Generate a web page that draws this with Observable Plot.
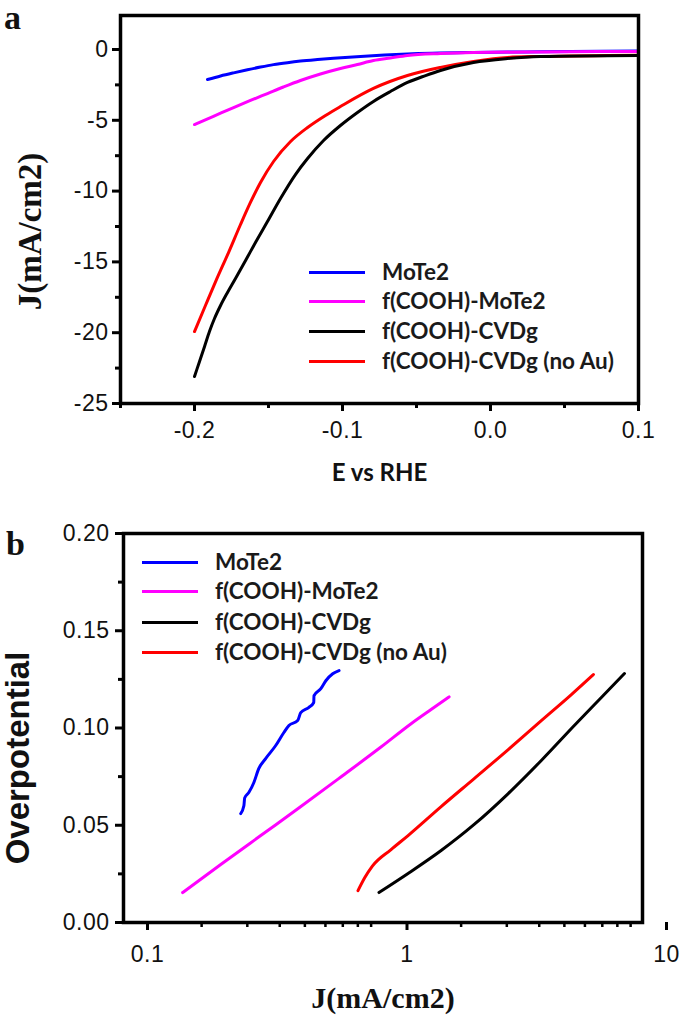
<!DOCTYPE html>
<html>
<head>
<meta charset="utf-8">
<script src="https://cdn.jsdelivr.net/npm/d3@7"></script>
<script src="https://cdn.jsdelivr.net/npm/@observablehq/plot@0.6"></script>
<style>
  body { margin: 0; background: white; }
  #wrap { position: relative; width: 685px; height: 1016px; background: white; overflow: hidden; }
  .panel { position: absolute; left: 0; }
  .plabel { position: absolute; font-family: "Liberation Serif", "Times New Roman", serif; font-weight: bold; font-size: 34px; line-height: 1; color: #111; }
  .legend { position: absolute; font-family: Lato, "Open Sans", sans-serif; font-weight: bold; font-size: 22.5px; color: #1a1a1a; }
  .legend .row { position: absolute; left: 0; white-space: nowrap; height: 0; }
  .legend .sw { position: absolute; left: 0; top: -1.5px; width: 56px; height: 3px; }
  .legend .tx { position: absolute; top: -14px; line-height: 28px; }
  #pa svg g[aria-label$="tick label"], #pb svg g[aria-label$="tick label"] {
    font-family: "Liberation Sans", Arial, sans-serif; font-size: 23px; letter-spacing: 0.5px; fill: #111;
  }
</style>
</head>
<body>
<div id="wrap">
  <div id="pa" class="panel" style="top:0"></div>
  <div id="pb" class="panel" style="top:500px"></div>
  <div class="plabel" style="left:4px; top:1px;">a</div>
  <div class="plabel" style="left:6px; top:527px;">b</div>
  <div id="lega" class="legend" style="left:309px; top:0;"></div>
  <div id="legb" class="legend" style="left:142px; top:0;"></div>
</div>
<script>
// ---------- Data ----------
const seriesNames = ["MoTe2", "f(COOH)-MoTe2", "f(COOH)-CVDg", "f(COOH)-CVDg (no Au)"];
const seriesColors = ["#0000ff", "#ff00ff", "#000000", "#ff0000"];

// Panel a: E vs RHE (V) and J (mA/cm2)
const aMoTe2E = [-0.1912, -0.1824, -0.1736, -0.1642, -0.1554, -0.1466, -0.1372, -0.1284, -0.1169, -0.1061, -0.0878, -0.0561, -0.0115, 0.0338, 0.1];
const aMoTe2J = [-2.12, -1.87, -1.65, -1.43, -1.24, -1.07, -0.93, -0.82, -0.71, -0.62, -0.49, -0.32, -0.21, -0.16, -0.11];
const aFMoTe2E = [-0.2, -0.1872, -0.1736, -0.1622, -0.1507, -0.1399, -0.1284, -0.1149, -0.1014, -0.0899, -0.0791, -0.0676, -0.0561, -0.0338, -0.0115, 0.0338, 0.1];
const aFMoTe2J = [-5.30, -4.72, -4.10, -3.60, -3.11, -2.65, -2.19, -1.73, -1.34, -1.06, -0.78, -0.60, -0.42, -0.28, -0.21, -0.17, -0.14];
const aCVDgE = [-0.2, -0.1966, -0.1932, -0.1899, -0.1865, -0.1824, -0.1777, -0.1723, -0.1655, -0.1588, -0.1507, -0.1419, -0.1318, -0.1236, -0.1128, -0.1014, -0.0899, -0.0791, -0.0676, -0.0561, -0.0439, -0.0338, -0.0115, 0.0115, 0.0338, 0.1];
const aCVDgJ = [-23.09, -22.03, -20.97, -19.92, -19.0, -18.08, -17.16, -16.17, -14.9, -13.63, -12.15, -10.52, -8.83, -7.70, -6.43, -5.37, -4.45, -3.67, -2.97, -2.33, -1.84, -1.48, -0.92, -0.64, -0.50, -0.42];
const aNoAuE = [-0.2, -0.1926, -0.1851, -0.1770, -0.1689, -0.1622, -0.1554, -0.1466, -0.1351, -0.1236, -0.1115, -0.1014, -0.0791, -0.0561, -0.0338, -0.0115, 0.0115, 0.0338, 0.1];
const aNoAuJ = [-19.92, -18.08, -16.24, -14.34, -12.36, -10.80, -9.39, -7.91, -6.50, -5.51, -4.66, -4.03, -2.75, -1.84, -1.27, -0.85, -0.56, -0.49, -0.40];

// Panel b: J (mA/cm2, log) and overpotential (V)
const bMoTe2J = [0.283, 0.291, 0.293, 0.304, 0.318, 0.332, 0.353, 0.386, 0.415, 0.434, 0.469, 0.482, 0.517, 0.541, 0.542, 0.576, 0.602, 0.640, 0.677];
const bMoTe2N = [0.056, 0.060, 0.064, 0.0668, 0.072, 0.0791, 0.0843, 0.0910, 0.0977, 0.1013, 0.1038, 0.1079, 0.1105, 0.1131, 0.1166, 0.1202, 0.1243, 0.1279, 0.1295];
const bFMoTe2J = [0.169, 0.237, 0.338, 0.4825, 0.688, 0.982, 1.283, 1.532, 1.798];
const bFMoTe2N = [0.0154, 0.0298, 0.0447, 0.0596, 0.0748, 0.0902, 0.1022, 0.1095, 0.116];
const bCVDgJ = [0.965, 1.249, 1.675, 2.246, 3.038, 4.074, 5.46, 6.94, 8.52];
const bCVDgN = [0.0154, 0.0252, 0.0370, 0.0504, 0.0663, 0.0833, 0.1013, 0.1157, 0.1280];
const bNoAuJ = [0.801, 0.850, 0.910, 1.074, 1.249, 1.675, 2.246, 3.038, 4.074, 5.32, 6.47];
const bNoAuN = [0.0164, 0.0230, 0.0290, 0.0375, 0.0447, 0.0596, 0.0740, 0.0889, 0.1038, 0.1172, 0.1275];

// Tick values
const aXTicks = [-0.2, -0.1, 0.0, 0.1];
const aXMinor = [-0.25, -0.15, -0.05, 0.05];
const aYTicks = [0, -5, -10, -15, -20, -25];
const aYMinor = [-2.5, -7.5, -12.5, -17.5, -22.5];
const bXTicks = [0.1, 1, 10];
const bXMinor = [0.2, 0.3, 0.4, 0.5, 0.6, 0.7, 0.8, 0.9, 2, 3, 4, 5, 6, 7, 8, 9];
const bYTicks = [0, 0.05, 0.1, 0.15, 0.2];
const bYMinor = [0.025, 0.075, 0.125, 0.175];

// ---------- Build tables ----------
function table(xs, ys, name) { return xs.map((x, i) => ({x, y: ys[i], s: name})); }
const aData = [
  ...table(aNoAuE, aNoAuJ, seriesNames[3]),
  ...table(aCVDgE, aCVDgJ, seriesNames[2]),
  ...table(aMoTe2E, aMoTe2J, seriesNames[0]),
  ...table(aFMoTe2E, aFMoTe2J, seriesNames[1])
];
const bData = [
  ...table(bMoTe2J, bMoTe2N, seriesNames[0]),
  ...table(bFMoTe2J, bFMoTe2N, seriesNames[1]),
  ...table(bCVDgJ, bCVDgN, seriesNames[2]),
  ...table(bNoAuJ, bNoAuN, seriesNames[3])
];
const colorScale = {domain: seriesNames, range: seriesColors};
const tickFont = "Liberation Sans, Arial, sans-serif";

// ---------- Panel a ----------
const pa = Plot.plot({
  width: 685, height: 500,
  marginLeft: 120, marginRight: 47, marginTop: 15, marginBottom: 97,
  x: {domain: [-0.25, 0.1]},
  y: {domain: [-25, 2.4]},
  color: colorScale,
  style: {fontFamily: tickFont, fontSize: "23px", color: "black", background: "white", overflow: "visible"},
  marks: [
    Plot.line(aData, {x: "x", y: "y", z: "s", stroke: "s", strokeWidth: 3, curve: "monotone-x"}),
    Plot.axisX(aXTicks, {tickSize: 8, tickPadding: 10, strokeWidth: 3, tickFormat: d => d.toFixed(1), label: null, fontSize: 23}),
    Plot.axisX(aXMinor, {tickSize: 5, strokeWidth: 3, text: null, label: null}),
    Plot.axisY(aYTicks, {tickSize: 8, tickPadding: 4, strokeWidth: 3, tickFormat: d => String(d), label: null, fontSize: 23}),
    Plot.axisY(aYMinor, {tickSize: 5, strokeWidth: 3, text: null, label: null}),
    Plot.frame({stroke: "black", strokeWidth: 3.5}),
    Plot.text(["E vs RHE"], {text: d => d, frameAnchor: "bottom", lineAnchor: "middle", textAnchor: "middle", dy: 70, fontFamily: "Lato, sans-serif", fontWeight: "bold", fontSize: 24, fill: "#111"}),
    Plot.text(["J(mA/cm2)"], {text: d => d, frameAnchor: "left", textAnchor: "middle", lineAnchor: "middle", dx: -90, dy: 22, rotate: -90, fontFamily: "Liberation Serif, serif", fontWeight: "bold", fontSize: 33, fill: "#111"})
  ]
});
document.getElementById("pa").appendChild(pa);

// ---------- Panel b ----------
const pb = Plot.plot({
  width: 685, height: 516,
  marginLeft: 123, marginRight: 43, marginTop: 33, marginBottom: 94,
  x: {type: "log", domain: [0.1, 10]},
  y: {domain: [0, 0.2]},
  color: colorScale,
  style: {fontFamily: tickFont, fontSize: "23px", color: "black", background: "white", overflow: "visible"},
  marks: [
    Plot.line(bData, {x: "x", y: "y", z: "s", stroke: "s", strokeWidth: 3, curve: "monotone-x"}),
    Plot.axisX(bXTicks, {tickSize: 8, tickPadding: 15, strokeWidth: 3, tickFormat: d => String(d), label: null, dx: 24, fontSize: 23}),
    Plot.axisX(bXMinor, {tickSize: 5, strokeWidth: 2.5, text: null, label: null}),
    Plot.axisY(bYTicks, {tickSize: 8, tickPadding: 6, strokeWidth: 3, tickFormat: d => d.toFixed(2), label: null, fontSize: 23}),
    Plot.axisY(bYMinor, {tickSize: 5, strokeWidth: 3, text: null, label: null}),
    Plot.frame({stroke: "black", strokeWidth: 3.5}),
    Plot.text(["J(mA/cm2)"], {text: d => d, frameAnchor: "bottom", lineAnchor: "middle", textAnchor: "middle", dy: 76, fontFamily: "Liberation Serif, serif", fontWeight: "bold", fontSize: 30, fill: "#111"}),
    Plot.text(["Overpotential"], {text: d => d, frameAnchor: "left", textAnchor: "middle", lineAnchor: "middle", dx: -105, dy: 30, rotate: -90, fontFamily: "Liberation Sans, Arial, sans-serif", fontWeight: "bold", fontSize: 33, fill: "#111"})
  ]
});
document.getElementById("pb").appendChild(pb);

// ---------- Legends ----------
function legend(el, rowsY) {
  seriesNames.forEach((name, i) => {
    const row = document.createElement("div");
    row.className = "row";
    row.style.top = rowsY[i] + "px";
    const sw = document.createElement("div");
    sw.className = "sw";
    sw.style.background = seriesColors[i];
    const tx = document.createElement("div");
    tx.className = "tx";
    tx.style.left = "73px";
    tx.textContent = name;
    row.appendChild(sw);
    row.appendChild(tx);
    el.appendChild(row);
  });
}
legend(document.getElementById("lega"), [272, 301, 331, 361]);
legend(document.getElementById("legb"), [562, 591, 622, 652]);
</script>
</body>
</html>
